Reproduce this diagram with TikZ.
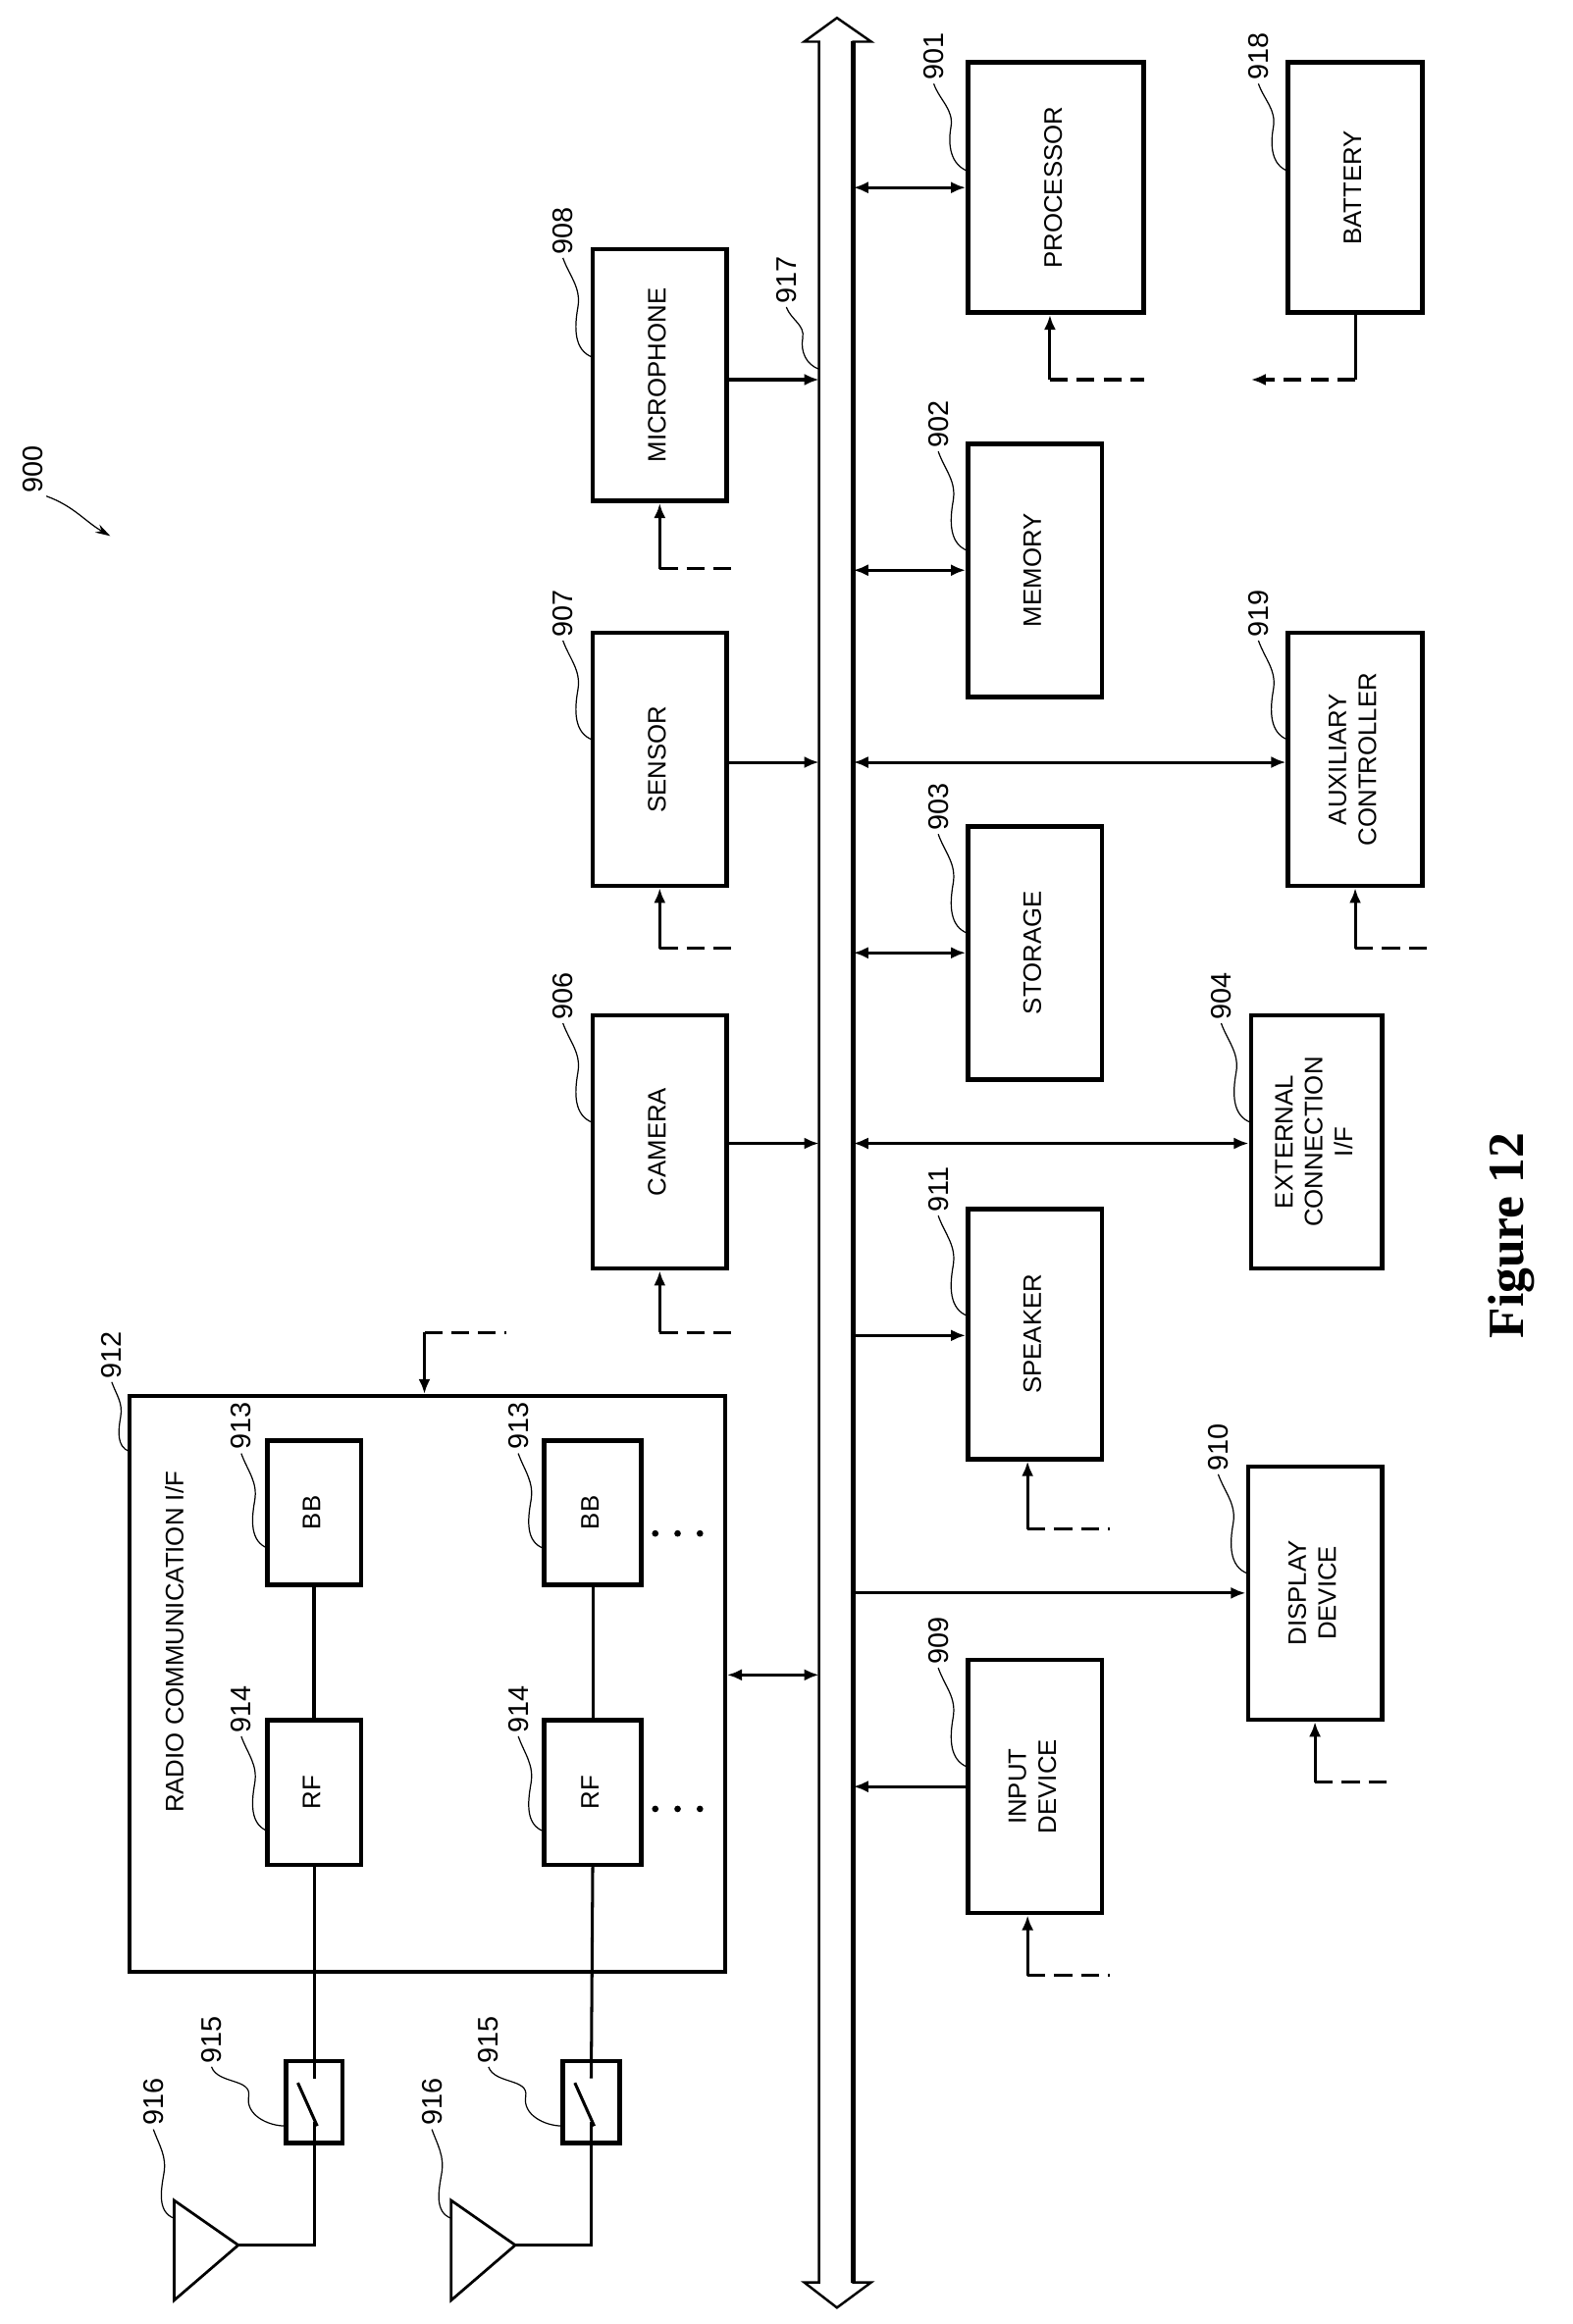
\documentclass[tikz,border=0pt]{standalone}
\usepackage{fontspec}
\setmainfont{Liberation Sans}
\newfontfamily\figfont{Liberation Serif}
\usetikzlibrary{arrows.meta,calc}
\begin{document}
\begin{tikzpicture}[x=0.5pt,y=-0.5pt,
  sz/.style 2 args={minimum width=#1*0.5pt,minimum height=#2*0.5pt},
  box/.style={draw,line width=1.5pt,inner sep=0pt,font=\fontsize{8.5}{10}\selectfont,align=center},
  num/.style={inner sep=1pt,font=\fontsize{9.5}{10}\selectfont},
  sq/.style={line width=0.4pt},
  con/.style={line width=1pt,-{Latex[length=5pt,width=4pt]}},
  dcon/.style={line width=1pt,{Latex[length=5pt,width=4pt]}-{Latex[length=5pt,width=4pt]}},
  ln/.style={line width=1pt},
  dsh/.style={line width=1pt,dash pattern=on 6pt off 3pt}]
\useasboundingbox (0,0) rectangle (1056,1561);
\newcommand{\rt}[1]{\rotatebox{90}{\begin{tabular}{@{}c@{}}#1\end{tabular}}}
\newcommand{\lbl}[5]{\node[num] (#1) at (#2) {\rotatebox{90}{#3}};
  \coordinate (#1e) at (#4);
  \draw[sq] (#1.south) to[out=-70,in=80] ($(#1.south)!0.5!(#1e)$) to[out=-100,in=#5] (#1e);}
% bus
\draw[line width=0.8pt] (550,28) -- (540,28) -- (562,12) -- (585,28) -- (573,28)
  -- (573,1533) -- (585,1533) -- (562,1550) -- (540,1533) -- (550,1533) -- cycle;
\draw[line width=1.8pt] (573,28) -- (573,1533);
% boxes
\node[box,sz={118}{168}] (proc) at (709,126) {\rt{PROCESSOR}};
\node[box,sz={90}{170}] (mem) at (695,383) {\rt{MEMORY}};
\node[box,sz={90}{170}] (stor) at (695,640) {\rt{STORAGE}};
\node[box,sz={90}{168}] (spk) at (695,896) {\rt{SPEAKER}};
\node[box,sz={90}{170}] (inp) at (695,1200) {\rt{INPUT\\DEVICE}};
\node[box,sz={90}{168}] (bat) at (910,126) {\rt{BATTERY}};
\node[box,sz={90}{170}] (aux) at (910,510) {\rt{AUXILIARY\\CONTROLLER}};
\node[box,sz={88}{170}] (ext) at (884,767) {\rt{EXTERNAL\\CONNECTION\\I/F}};
\node[box,sz={90}{170}] (disp) at (883,1070) {\rt{DISPLAY\\DEVICE}};
\node[box,sz={90}{169}] (mic) at (443,252) {\rt{MICROPHONE}};
\node[box,sz={90}{170}] (sen) at (443,510) {\rt{SENSOR}};
\node[box,sz={90}{170}] (cam) at (443,767) {\rt{CAMERA}};
\node[draw,line width=1.2pt,sz={400}{387},inner sep=0pt] (radio) at (287,1131) {};
\node[font=\fontsize{8.5}{10}\selectfont] (rtxt) at (117,1103) {\rotatebox{90}{RADIO COMMUNICATION I/F}};
\node[box,sz={63}{97}] (bb1) at (211,1016) {\rt{BB}};
\node[box,sz={63}{97}] (rf1) at (211,1204) {\rt{RF}};
\node[box,sz={65}{97}] (bb2) at (398,1016) {\rt{BB}};
\node[box,sz={65}{97}] (rf2) at (398,1204) {\rt{RF}};
\node[draw,line width=1.5pt,sz={38}{55},inner sep=0pt] (sw1) at (211,1412) {};
\node[draw,line width=1.5pt,sz={38}{55},inner sep=0pt] (sw2) at (397,1412) {};
% dots
\foreach \x in {440,455,470}{\fill (\x,1030) circle (2.2); \fill (\x,1215) circle (2.2);}
% bus connections
\foreach \n/\y/\s in {proc/126/dcon,mem/383/dcon,stor/640/dcon,spk/897/con,aux/512/dcon,ext/768/dcon,disp/1070/con}{
  \coordinate (b\n) at (573,\y);
  \draw[\s] (b\n) -- (b\n -| \n.west);}
\coordinate (binp) at (573,1200);
\draw[con] (binp -| inp.west) -- (binp);
\foreach \n/\y in {mic/255,sen/512,cam/768}{
  \coordinate (b\n) at (550,\y);
  \draw[con] (b\n -| \n.east) -- (b\n);}
\coordinate (bradio) at (550,1125);
\draw[dcon] (bradio -| radio.east) -- (bradio);
% inputs
\foreach \n/\x/\y/\e in {proc/705/255/768,mic/443/382/495,sen/443/637/495,cam/443/895/495,spk/690/1027/745,inp/690/1327/745,aux/910/637/960,disp/883/1197/932}{
  \coordinate (i\n) at (\x,\y);
  \coordinate (d\n) at (\e,\y);
  \draw[con] (i\n) -- (i\n |- \n.south);
  \draw[dsh] (i\n) -- (d\n);}
\coordinate (iradio) at (285,895);
\coordinate (dradio) at (340,895);
\draw[con] (iradio) -- (iradio |- radio.north);
\draw[dsh] (iradio) -- (dradio);
\coordinate (ibat) at (910,255);
\coordinate (dbat) at (840,255);
\draw[ln] (bat.south) -- (ibat);
\draw[dsh,-{Latex[length=5pt,width=4pt]}] (ibat) -- (dbat);
% internal radio lines
\draw[line width=1.5pt] (bb1.south) -- (rf1.north);
\draw[ln] (bb2.south) -- (rf2.north);
% switches and antennas
\foreach \s/\r/\x/\t in {sw1/rf1/211/117,sw2/rf2/397/303}{
  \draw[ln] (\r.south) -- (\x,1396);
  \draw[ln] (\x-11,1399) -- (\x+2,1428);
  \draw[ln] (\x,1425) -- (\x,1508) -- (\t+43,1508);
  \draw[line width=0.9pt] (\t,1478) -- (\t+43,1508) -- (\t,1545) -- cycle;}
% labels
\node[num] (l900) at (22,315) {\rotatebox{90}{900}};
\coordinate (l900e) at (74,360);
\draw[sq,-{Stealth[length=5pt,width=3pt]}] (l900.south east) to[out=-20,in=150] (l900e);
\lbl{l917}{528,188}{917}{550,248}{160}
\lbl{l901}{627,38}{901}{650,115}{160}
\lbl{l918}{845,38}{918}{865,115}{160}
\lbl{l908}{378,155}{908}{398,240}{160}
\lbl{l907}{378,412}{907}{398,497}{160}
\lbl{l906}{378,669}{906}{398,754}{160}
\lbl{l902}{630,285}{902}{650,370}{160}
\lbl{l903}{630,542}{903}{650,627}{160}
\lbl{l911}{630,799}{911}{650,884}{160}
\lbl{l909}{630,1102}{909}{650,1187}{160}
\lbl{l919}{845,412}{919}{865,497}{160}
\lbl{l904}{820,669}{904}{840,754}{160}
\lbl{l910}{818,972}{910}{838,1057}{160}
\lbl{l912}{75,910}{912}{87,975}{160}
\lbl{l913a}{162,958}{913}{180,1040}{160}
\lbl{l914a}{162,1148}{914}{180,1230}{160}
\lbl{l913b}{348,958}{913}{365,1040}{160}
\lbl{l914b}{348,1148}{914}{365,1230}{160}
\lbl{l915a}{142,1370}{915}{192,1428}{180}
\lbl{l915b}{328,1370}{915}{378,1428}{180}
\lbl{l916a}{103,1412}{916}{117,1490}{160}
\lbl{l916b}{290,1412}{916}{303,1490}{160}
\node[font=\figfont\bfseries\fontsize{17}{20}\selectfont] (fig) at (1015,830) {\rotatebox{90}{Figure 12}};
\end{tikzpicture}
\end{document}
